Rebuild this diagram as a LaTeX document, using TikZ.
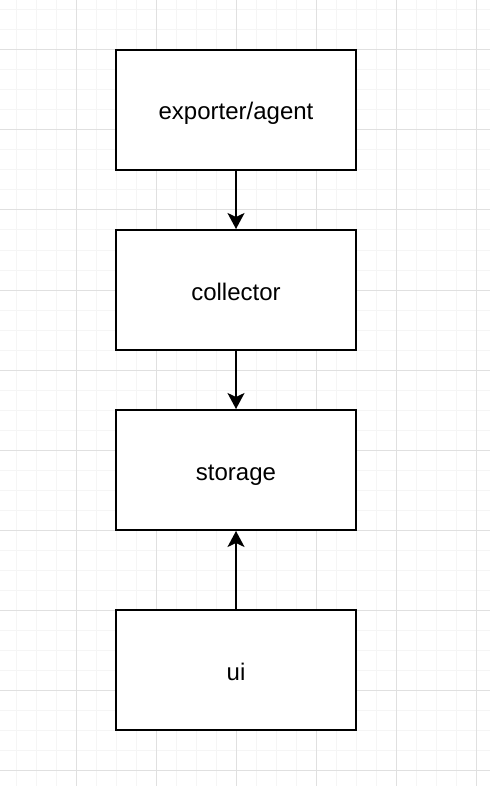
\documentclass[tikz,border=0pt]{standalone}
\usepackage{fontspec}
\setmainfont{Liberation Sans}
\usetikzlibrary{arrows.meta}
\definecolor{gridminor}{RGB}{245,245,245}
\definecolor{gridmajor}{RGB}{224,224,224}
\begin{document}
\begin{tikzpicture}[x=1pt,y=-1pt,
  box/.style={draw, fill=white, line width=2pt, minimum width=240pt, minimum height=120pt, inner sep=0pt, text height=20pt, text depth=0pt, font=\fontsize{24}{28}\selectfont},
  conn/.style={line width=2pt, -{Stealth[length=16pt,width=17pt,inset=4pt]}},
  minorline/.style={gridminor, line width=1pt},
  majorline/.style={gridmajor, line width=1pt}]
\useasboundingbox[fill=white] (0,0) rectangle (490,786);
\foreach \x in {16,36,...,476} \draw[minorline] (\x,0) -- (\x,786);
\foreach \y in {10,30,...,770} \draw[minorline] (0,\y) -- (490,\y);
\foreach \x in {76,156,...,476} \draw[majorline] (\x,0) -- (\x,786);
\foreach \y in {50,130,...,770} \draw[majorline] (0,\y) -- (490,\y);
\node[box] (exp) at (236,110) {exporter/agent};
\node[box] (col) at (236,290) {collector};
\node[box] (sto) at (236,470) {storage};
\node[box] (ui) at (236,670) {ui};
\draw[conn] (exp) -- (col);
\draw[conn] (col) -- (sto);
\draw[conn] (ui) -- (sto);
\end{tikzpicture}
\end{document}
